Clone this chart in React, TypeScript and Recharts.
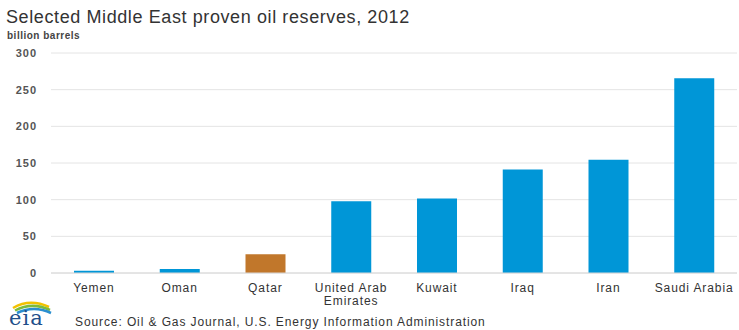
import React from 'react';
import { BarChart, Bar, Cell, XAxis, YAxis, CartesianGrid } from 'recharts';

const countries = ['Yemen', 'Oman', 'Qatar', 'United Arab Emirates', 'Kuwait', 'Iraq', 'Iran', 'Saudi Arabia'];
const reserves = [3, 5.5, 25.4, 97.8, 101.5, 141, 154.6, 265.4];
const barColors = ['#0096d7', '#0096d7', '#c1772b', '#0096d7', '#0096d7', '#0096d7', '#0096d7', '#0096d7'];
const yTicks = [0, 50, 100, 150, 200, 250, 300];

const data = countries.map((c, i) => ({ name: c, value: reserves[i] }));

const font = 'Arial, "Liberation Sans", sans-serif';

// split long names into two lines, like "United Arab / Emirates"
const wrap = (s: string) => {
  if (s.length <= 13) return [s];
  const words = s.split(' ');
  return [words.slice(0, -1).join(' '), words[words.length - 1]];
};

const XTick = (props: any) => {
  const { x, y, payload } = props;
  const lines = wrap(payload.value);
  return (
    <g>
      {lines.map((l, i) => (
        <text key={i} x={x} y={y + 11 + i * 13} textAnchor="middle" fontFamily={font} fontSize={12} letterSpacing={0.9} fill="#333">
          {l}
        </text>
      ))}
    </g>
  );
};

const EiaLogo = () => (
  <svg width={60} height={34} style={{ position: 'absolute', left: 0, top: 295 }}>
    <path d="M13 13 Q30 3 49 12" stroke="#f2c200" strokeWidth={2.5} fill="none" />
    <path d="M15 15.5 Q32 6.5 50 15" stroke="#7dbb3c" strokeWidth={2.5} fill="none" />
    <path d="M17 18 Q34 10 51 18" stroke="#2b8fd0" strokeWidth={2.5} fill="none" />
    <text x={9} y={30} fontFamily='"DejaVu Serif", serif' fontSize={21} letterSpacing={1} fill="#1f4f8a">eia</text>
  </svg>
);

export default function App() {
  return (
    <div style={{ position: 'absolute', left: 0, top: 0, width: 739, height: 330, background: '#fff', fontFamily: font }}>
      <div style={{ position: 'absolute', left: 6, top: 7, fontSize: 18, letterSpacing: 0.6, color: '#333', whiteSpace: 'nowrap' }}>
        Selected Middle East proven oil reserves, 2012
      </div>
      <div style={{ position: 'absolute', left: 7, top: 30, fontSize: 10, fontWeight: 'bold', letterSpacing: 0.5, color: '#444' }}>
        billion barrels
      </div>
      <BarChart width={739} height={330} data={data} margin={{ top: 53, right: 2, bottom: 27, left: 0 }}>
        <CartesianGrid vertical={false} stroke="#e4e4e4" />
        <XAxis
          dataKey="name"
          height={30}
          interval={0}
          tick={<XTick />}
          tickLine={false}
          axisLine={{ stroke: '#d8d8d8' }}
        />
        <YAxis
          width={51}
          domain={[0, 300]}
          ticks={yTicks}
          tickLine={false}
          axisLine={false}
          tickMargin={8}
          tick={{ fontFamily: font, fontSize: 11, fontWeight: 'bold', fill: '#555', letterSpacing: 1 }}
        />
        <Bar dataKey="value" barSize={40} isAnimationActive={false}>
          {data.map((d, i) => (
            <Cell key={d.name} fill={barColors[i]} />
          ))}
        </Bar>
      </BarChart>
      <EiaLogo />
      <div style={{ position: 'absolute', left: 75, top: 315, fontSize: 12, letterSpacing: 0.9, color: '#333', whiteSpace: 'nowrap' }}>
        Source: Oil &amp; Gas Journal, U.S. Energy Information Administration
      </div>
    </div>
  );
}
